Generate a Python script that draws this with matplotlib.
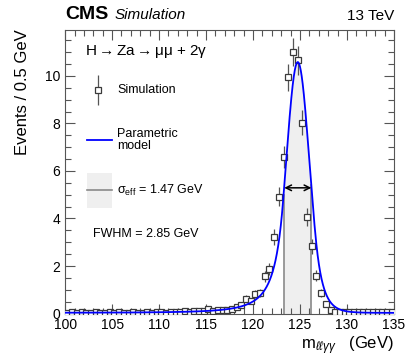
import numpy as np
import matplotlib.pyplot as plt
from matplotlib.ticker import MultipleLocator

plt.rcParams['font.family'] = ['Liberation Sans', 'DejaVu Sans']
plt.rcParams['mathtext.fontset'] = 'custom'
plt.rcParams['mathtext.rm'] = 'Liberation Sans'
plt.rcParams['mathtext.it'] = 'Liberation Sans:italic'

# simulated events per 0.5 GeV bin (100 - 135 GeV)
binCenters = np.arange(100.25, 135.0, 0.5)
events = [0.04, 0.05, 0.03, 0.05, 0.04, 0.03, 0.05, 0.04, 0.03, 0.05,
          0.04, 0.05, 0.03, 0.04, 0.05, 0.04, 0.03, 0.05, 0.04, 0.05,
          0.06, 0.04, 0.06, 0.05, 0.05, 0.12, 0.07, 0.09, 0.10, 0.12,
          0.20, 0.10, 0.15, 0.13, 0.17, 0.20, 0.27, 0.35, 0.62, 0.52,
          0.83, 0.85, 1.56, 1.87, 3.22, 4.91, 6.60, 9.94, 11.0, 10.65,
          8.03, 4.06, 2.83, 1.59, 0.85, 0.41, 0.17, 0.08, 0.07, 0.06,
          0.06, 0.05, 0.07, 0.06, 0.08, 0.07, 0.07, 0.06, 0.05, 0.08]
eventWeight = 0.033  # MC weight per event, errors = sqrt(sum w^2)

# parametric model (double-sided crystal ball)
peakHeight = 10.55
mean = 124.76
sigma = 1.23
alphaL, nL = 1.3, 3.0
alphaR, nR = 1.6, 20.0
flatBkg = 0.03

sigmaEff = 1.47
bandLow = 123.25
fwhm = 2.85


def dcb(x):
    z = (x - mean) / sigma
    out = np.exp(-0.5 * z**2)
    aL = (nL / alphaL)**nL * np.exp(-0.5 * alphaL**2)
    bL = nL / alphaL - alphaL
    aR = (nR / alphaR)**nR * np.exp(-0.5 * alphaR**2)
    bR = nR / alphaR - alphaR
    out = np.where(z < -alphaL, aL * np.abs(bL - z)**(-nL), out)
    out = np.where(z > alphaR, aR * np.abs(bR + z)**(-nR), out)
    return peakHeight * out + flatBkg


events = np.array(events)
errors = np.sqrt(events * eventWeight)

fig = plt.figure(figsize=(4.07, 3.6), dpi=100)
ax = fig.add_axes([0.16, 0.129, 0.808, 0.789])

xs = np.linspace(100, 135, 2000)
model = dcb(xs)

# sigma_eff band
bandHigh = bandLow + 2 * sigmaEff
inBand = (xs >= bandLow) & (xs <= bandHigh)
ax.fill_between(xs[inBand], 0, model[inBand], color='#efefef', lw=0, zorder=1)
ax.plot([bandLow, bandLow], [0, dcb(bandLow)], color='#8a8a8a', lw=1.2, zorder=2)
ax.plot([bandHigh, bandHigh], [0, dcb(bandHigh)], color='#8a8a8a', lw=1.2, zorder=2)

ax.errorbar(binCenters, events, yerr=errors, fmt='s', ms=5, mfc='white',
            mec='#3a3a3a', mew=0.9, ecolor='#555555', elinewidth=0.9, capsize=0, zorder=3)
ax.plot(xs, model, color='#0000ff', lw=1.3, zorder=4)

# FWHM arrow
halfMax = model.max() / 2
above = xs[model >= halfMax]
ax.annotate('', xy=(above[0], halfMax), xytext=(above[-1], halfMax),
            arrowprops=dict(arrowstyle='<->', color='black', lw=1.1,
                            shrinkA=0, shrinkB=0), zorder=5)

ax.set_xlim(100, 135)
ax.set_ylim(0, 11.95)
ax.xaxis.set_major_locator(MultipleLocator(5))
ax.xaxis.set_minor_locator(MultipleLocator(1))
ax.yaxis.set_major_locator(MultipleLocator(2))
ax.yaxis.set_minor_locator(MultipleLocator(0.5))
ax.tick_params(which='both', direction='in', top=True, right=True, labelsize=10, colors='black')
ax.tick_params(which='major', length=7, width=0.8, color='#555555')
ax.tick_params(which='minor', length=4, width=0.8, color='#555555')
ax.tick_params(axis='x', pad=3)
for s in ax.spines.values():
    s.set_color('#555555')
    s.set_linewidth(0.8)

ax.set_xlabel(r'm$_{\ell\ell\gamma\gamma}$   (GeV)', fontsize=12, loc='right', labelpad=2)
ax.set_ylabel('Events / 0.5 GeV', fontsize=12, loc='top', labelpad=11)

ax.text(0.0, 1.022, 'CMS', transform=ax.transAxes, fontsize=14, fontweight='bold', ha='left', va='bottom')
ax.text(0.149, 1.025, 'Simulation', transform=ax.transAxes, fontsize=11, style='italic', ha='left', va='bottom')
ax.text(1.0, 1.022, '13 TeV', transform=ax.transAxes, fontsize=11, ha='right', va='bottom')

ax.text(0.061, 0.921, r'H$\rightarrow$Za$\rightarrow$μμ + 2γ', transform=ax.transAxes,
        fontsize=11, ha='left', va='center')

# legend drawn by hand
ax.errorbar([0.10], [0.787], yerr=[0.053], transform=ax.transAxes, fmt='s', ms=5, mfc='white',
            mec='#3a3a3a', mew=0.9, ecolor='#555555', elinewidth=0.9, capsize=0, clip_on=False)
ax.text(0.158, 0.787, 'Simulation', transform=ax.transAxes, fontsize=9, va='center')
ax.plot([0.067, 0.143], [0.611, 0.611], transform=ax.transAxes, color='#0000ff', lw=1.3)
ax.text(0.158, 0.611, 'Parametric\nmodel', transform=ax.transAxes, fontsize=9, va='center', linespacing=1.0)
ax.add_patch(plt.Rectangle((0.067, 0.371), 0.076, 0.124, transform=ax.transAxes,
                           facecolor='#efefef', edgecolor='none'))
ax.plot([0.067, 0.143], [0.435, 0.435], transform=ax.transAxes, color='#8a8a8a', lw=1.2)
ax.text(0.158, 0.435, r'σ$_{\rm eff}$ = %.2f GeV' % sigmaEff, transform=ax.transAxes, fontsize=9, va='center')
ax.text(0.085, 0.28, 'FWHM = %.2f GeV' % fwhm, transform=ax.transAxes, fontsize=9, va='center')

fig.savefig('out.png', dpi=100)
